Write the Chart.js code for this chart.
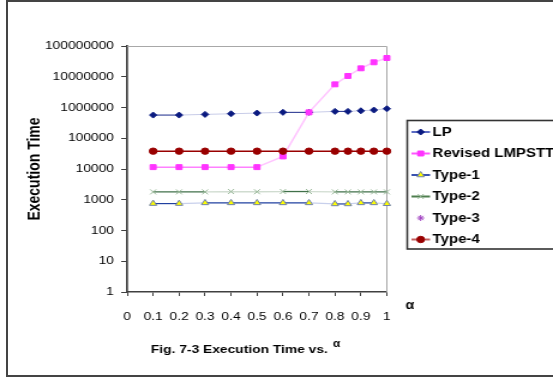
<!DOCTYPE html>
<html>
<head>
<meta charset="utf-8">
<script src="https://cdn.jsdelivr.net/npm/chart.js@4.4.0/dist/chart.umd.min.js"></script>
<style>
  html, body { margin: 0; padding: 0; background: #fff; overflow: hidden; }
  #frame { position: absolute; left: 6px; top: 0; width: 600px; height: 373px; border: 2px solid #444; border-right: none; }
  #chart { position: absolute; left: 0; top: 0; }
</style>
</head>
<body>
<div id="frame"></div>
<canvas id="chart" width="461" height="377" style="width:553px;height:377px"></canvas>
<script>
// alpha values on the x axis
const alphaValues = [0.1, 0.2, 0.3, 0.4, 0.5, 0.6, 0.7, 0.8, 0.85, 0.9, 0.95, 1.0];

// execution times
const lpTimes      = [567000, 567000, 597000, 625000, 659000, 695000, 695000, 748000, 748000, 783000, 826000, 910000];
const revisedTimes = [11500, 11500, 11500, 11500, 11500, 25600, 695000, 5660000, 10600000, 18800000, 29500000, 40700000];
const type1Times   = [750, 750, 790, 790, 790, 790, 790, 730, 730, 790, 790, 740];
const type2Times   = [1800, 1800, 1800, 1850, 1820, 1850, 1850, 1800, 1800, 1800, 1800, 1800];
const type3Times   = [];
const type4Times   = [38000, 38000, 38000, 38000, 38000, 38000, 38000, 38000, 38000, 38000, 38000, 38000];

const seriesNames = ['LP', 'Revised LMPSTT', 'Type-1', 'Type-2', 'Type-3', 'Type-4'];
const xTicks = [0, 0.1, 0.2, 0.3, 0.4, 0.5, 0.6, 0.7, 0.8, 0.9, 1];
const yTicks = [1, 10, 100, 1000, 10000, 100000, 1000000, 10000000, 100000000];

const legendLines = ['#5c6cc4', '#ff55ff', '#3a52b0', '#4f7f4f', null, '#c46060'];

function pts(arr) {
    return arr.map(function (v, i) { return { x: alphaValues[i], y: v }; });
}

// flat runs look crisp, sloped runs look washed out in the original
function lineColor(crisp, pale) {
    return function (c) { return c.p0.parsed.y === c.p1.parsed.y ? crisp : pale; };
}

const captions = {
    id: 'captions',
    beforeDatasetsDraw(chart) {
        const ctx = chart.ctx, a = chart.chartArea;
        ctx.save();
        ctx.strokeStyle = '#a8a8a8';
        ctx.lineWidth = 1;
        ctx.beginPath();
        ctx.moveTo(a.left, a.top + 0.5);
        ctx.lineTo(a.right, a.top + 0.5);
        ctx.lineTo(a.right, a.bottom);
        ctx.stroke();
        ctx.restore();
    },
    afterDraw(chart) {
        const ctx = chart.ctx;
        ctx.save();
        // legend box
        ctx.strokeStyle = '#333';
        ctx.lineWidth = 1.6;
        ctx.strokeRect(339.5, 120.5, 140, 128.5);
        ctx.textBaseline = 'middle';
        ctx.textAlign = 'left';
        chart.data.datasets.forEach(function (ds, i) {
            const y = 132 + i * 21.5;
            if (legendLines[i]) {
                ctx.strokeStyle = legendLines[i];
                ctx.lineWidth = 2;
                ctx.beginPath();
                ctx.moveTo(343, y);
                ctx.lineTo(358.5, y);
                ctx.stroke();
            }
            ctx.fillStyle = ds.pointBackgroundColor;
            ctx.strokeStyle = ds.pointBorderColor;
            ctx.lineWidth = ds.pointBorderWidth;
            Chart.helpers.drawPoint(ctx, {
                pointStyle: ds.pointStyle, radius: ds.pointRadius,
                rotation: 0, borderWidth: ds.pointBorderWidth
            }, 350.7, y);
            ctx.fillStyle = '#000';
            ctx.font = 'bold 12.5px "Liberation Sans", Arial, sans-serif';
            ctx.fillText(ds.label, 360.6, y + 0.5);
        });

        // x axis captions
        ctx.textBaseline = 'alphabetic';
        ctx.fillStyle = '#000';
        ctx.font = 'bold 12px "Liberation Sans", Arial, sans-serif';
        ctx.fillText('α', 338, 308.5);
        const cap = 'Fig. 7-3 Execution Time vs. ';
        ctx.font = 'bold 11.5px "Liberation Sans", Arial, sans-serif';
        ctx.fillText(cap, 125.8, 353);
        const w = ctx.measureText(cap).width;
        ctx.font = 'bold 10px "Liberation Sans", Arial, sans-serif';
        ctx.fillText('α', 125.8 + w + 1, 346.5);
        ctx.restore();
    }
};

Chart.defaults.font.family = '"Liberation Sans", Arial, sans-serif';
Chart.defaults.color = '#000';

new Chart(document.getElementById('chart'), {
    type: 'line',
    data: {
        datasets: [{
            label: seriesNames[0],
            data: pts(lpTimes),
            borderColor: '#1a2a8a',
            borderWidth: 1,
            segment: { borderColor: lineColor('#1a2a8a', '#c8cce8') },
            pointStyle: 'rectRot',
            pointRadius: 3,
            pointBackgroundColor: '#0a1a80',
            pointBorderColor: '#0a1a80',
            pointBorderWidth: 1,
            order: 6
        }, {
            label: seriesNames[1],
            data: pts(revisedTimes),
            borderColor: '#ff80ff',
            borderWidth: 1.5,
            segment: { borderColor: lineColor('#ff80ff', '#ffc4ff') },
            pointStyle: 'rect',
            pointRadius: 3.5,
            pointBackgroundColor: '#ff33ff',
            pointBorderColor: '#ff33ff',
            pointBorderWidth: 1,
            order: 5
        }, {
            label: seriesNames[2],
            data: pts(type1Times),
            borderColor: '#2040a0',
            borderWidth: 1.2,
            segment: { borderColor: lineColor('#2040a0', '#c8d0ec') },
            pointStyle: 'triangle',
            pointRadius: 3.5,
            pointBackgroundColor: '#ffff00',
            pointBorderColor: '#7080a8',
            pointBorderWidth: 1,
            order: 4
        }, {
            label: seriesNames[3],
            data: pts(type2Times),
            borderColor: '#40704a',
            borderWidth: 1.3,
            segment: { borderColor: lineColor('#40704a', '#d0dcd0') },
            pointStyle: 'crossRot',
            pointRadius: 3.5,
            pointBackgroundColor: '#98b898',
            pointBorderColor: '#98b898',
            pointBorderWidth: 1,
            order: 3
        }, {
            label: seriesNames[4],
            data: pts(type3Times),
            showLine: false,
            borderColor: '#a040c0',
            pointStyle: 'star',
            pointRadius: 3,
            pointBackgroundColor: '#a040c0',
            pointBorderColor: '#a040c0',
            pointBorderWidth: 1,
            order: 2
        }, {
            label: seriesNames[5],
            data: pts(type4Times),
            borderColor: '#990000',
            borderWidth: 1.5,
            pointStyle: 'circle',
            pointRadius: 3.2,
            pointBackgroundColor: '#990000',
            pointBorderColor: '#990000',
            pointBorderWidth: 1,
            order: 1
        }]
    },
    options: {
        responsive: false,
        animation: false,
        events: [],
        clip: false,
        layout: { padding: { top: 46, right: 138.5, bottom: 0, left: 0 } },
        plugins: {
            legend: { display: false },
            tooltip: { enabled: false }
        },
        scales: {
            x: {
                type: 'linear',
                min: 0,
                max: 1,
                afterBuildTicks: function (s) { s.ticks = xTicks.map(function (v) { return { value: v }; }); },
                afterFit: function (s) { s.height = 85; },
                grid: { drawOnChartArea: false, tickLength: 4, color: '#404040', lineWidth: 1 },
                border: { color: '#404040', width: 1.5 },
                ticks: {
                    padding: 14, autoSkip: false, maxRotation: 0,
                    font: { size: 11.5 }, color: '#000',
                    callback: function (v) { return String(v); }
                }
            },
            y: {
                type: 'logarithmic',
                min: 1,
                max: 100000000,
                afterBuildTicks: function (s) { s.ticks = yTicks.map(function (v) { return { value: v }; }); },
                afterFit: function (s) { s.width = 106; },
                grid: { drawOnChartArea: false, tickLength: 5, color: '#404040', lineWidth: 1 },
                border: { color: '#404040', width: 1.7 },
                ticks: {
                    padding: 6, autoSkip: false,
                    font: { size: 11.5 }, color: '#000',
                    callback: function (v) { return String(v); }
                },
                title: {
                    display: true,
                    text: 'Execution Time',
                    font: { size: 14, weight: 'bold' },
                    color: '#000',
                    padding: { top: 21, bottom: 0 }
                }
            }
        }
    },
    plugins: [captions]
});
</script>
</body>
</html>
